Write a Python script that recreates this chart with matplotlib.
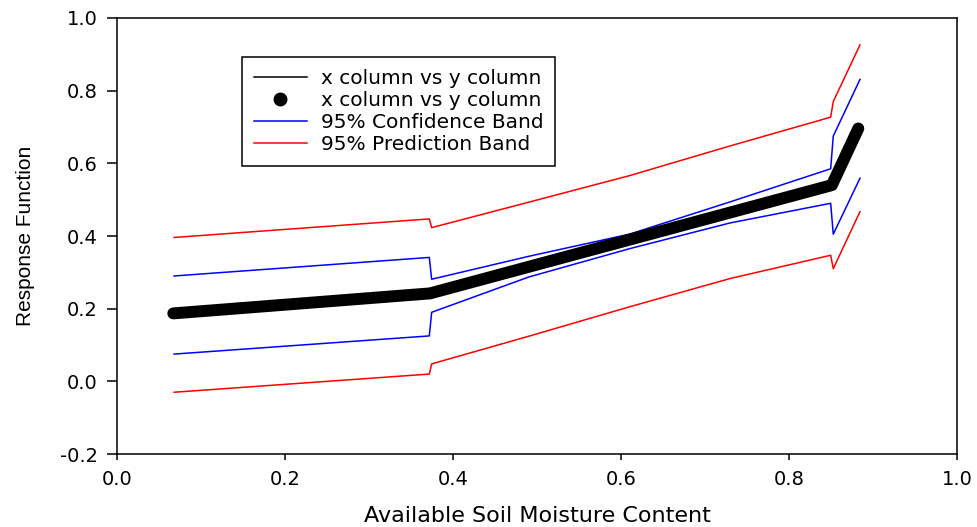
import numpy as np
import matplotlib
matplotlib.use('Agg')
import matplotlib.pyplot as plt
from matplotlib.lines import Line2D

plt.rcParams['axes.unicode_minus'] = False

# fitted curve (segmented), also the data points
x_fit = [0.067, 0.3726, 0.851, 0.8825]
y_fit = [0.187, 0.242, 0.540, 0.696]

# 95% confidence band
x_band = [0.068, 0.3718, 0.3746, 0.49, 0.61, 0.73, 0.8496, 0.8527, 0.8845]
conf_up = [0.290, 0.341, 0.281, 0.344, 0.405, 0.494, 0.585, 0.675, 0.831]
conf_lo = [0.075, 0.125, 0.190, 0.287, 0.365, 0.436, 0.490, 0.405, 0.559]

# 95% prediction band
pred_up = [0.396, 0.447, 0.423, 0.493, 0.566, 0.648, 0.727, 0.770, 0.926]
pred_lo = [-0.030, 0.020, 0.048, 0.124, 0.205, 0.283, 0.347, 0.310, 0.467]

x_ticks = [0.0, 0.2, 0.4, 0.6, 0.8, 1.0]
y_ticks = [-0.2, 0.0, 0.2, 0.4, 0.6, 0.8, 1.0]

fig = plt.figure(figsize=(9.77, 5.27), dpi=100)
ax = fig.add_axes([117 / 977, 73 / 527, 840 / 977, 436 / 527])

# data points: densely packed dots drawn as a thick round-capped stroke
ax.plot(x_fit, y_fit, color='black', lw=8.6, solid_capstyle='round',
        solid_joinstyle='round', zorder=3)
ax.plot(x_fit, y_fit, color='black', lw=1.1, zorder=4)

ax.plot(x_band, conf_up, color='#0000ff', lw=1.1)
ax.plot(x_band, conf_lo, color='#0000ff', lw=1.1)
ax.plot(x_band, pred_up, color='#ff0000', lw=1.1)
ax.plot(x_band, pred_lo, color='#ff0000', lw=1.1)

ax.set_xlim(0, 1)
ax.set_ylim(-0.2, 1.0)
ax.set_xticks(x_ticks)
ax.set_yticks(y_ticks)
ax.set_xticklabels(['%.1f' % v for v in x_ticks])
ax.set_yticklabels(['%.1f' % v for v in y_ticks])
ax.tick_params(axis='x', direction='out', length=4.5, width=1.1, pad=7, labelsize=14)
ax.tick_params(axis='y', direction='out', length=7, width=1.1, pad=7, labelsize=14)
for s in ax.spines.values():
    s.set_linewidth(1.1)

ax.set_xlabel('Available Soil Moisture Content', fontsize=16, labelpad=12)
ax.set_ylabel('Response Function', fontsize=15, family='Liberation Sans',
              labelpad=18)

handles = [
    Line2D([], [], color='black', lw=1.1),
    Line2D([], [], color='black', ls='none', marker='o', ms=9),
    Line2D([], [], color='#0000ff', lw=1.1),
    Line2D([], [], color='#ff0000', lw=1.1),
]
labels = ['x column vs y column', 'x column vs y column',
          '95% Confidence Band', '95% Prediction Band']
leg = ax.legend(handles, labels, loc='upper left', bbox_to_anchor=(0.149, 0.911),
                borderaxespad=0, fontsize=14.5, handlelength=2.6, handletextpad=0.7,
                labelspacing=0.15, borderpad=0.6, fancybox=False, framealpha=1)
leg.get_frame().set_edgecolor('black')
leg.get_frame().set_linewidth(1.1)

fig.savefig('out.png', dpi=100)
